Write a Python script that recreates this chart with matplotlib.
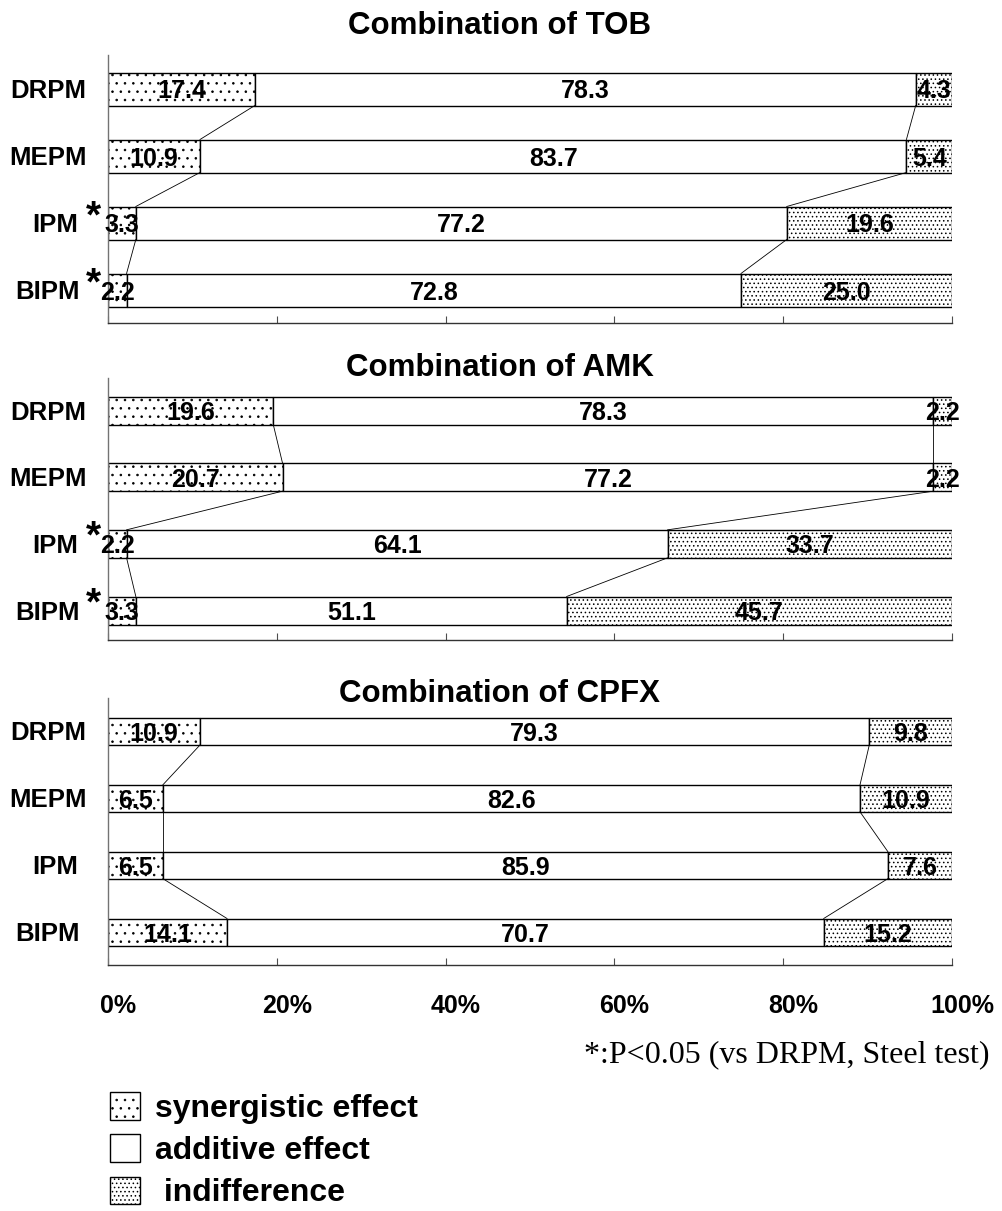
import matplotlib
matplotlib.use('Agg')
import matplotlib.pyplot as plt
from matplotlib import transforms
from matplotlib.patches import Patch
import numpy as np

plt.rcParams['font.family'] = 'Liberation Sans'
plt.rcParams['hatch.linewidth'] = 0.6

# percentages of strains per interaction category
titles = ['Combination of TOB', 'Combination of AMK', 'Combination of CPFX']
drugs = ['DRPM', 'MEPM', 'IPM', 'BIPM']
synergy = [[17.4, 10.9, 3.3, 2.2],
           [19.6, 20.7, 2.2, 3.3],
           [10.9, 6.5, 6.5, 14.1]]
additive = [[78.3, 83.7, 77.2, 72.8],
            [78.3, 77.2, 64.1, 51.1],
            [79.3, 82.6, 85.9, 70.7]]
indiff = [[4.3, 5.4, 19.6, 25.0],
          [2.2, 2.2, 33.7, 45.7],
          [9.8, 10.9, 7.6, 15.2]]
# significant vs DRPM (Steel test)
signif = [[False, False, True, True],
          [False, False, True, True],
          [False, False, False, False]]
xticks = [0, 20, 40, 60, 80, 100]
xticklabels = ['0%', '20%', '40%', '60%', '80%', '100%']

W, H = 1003, 1211
fig = plt.figure(figsize=(W / 100, H / 100), dpi=100)

# panel layout in pixels: axes top, axes bottom, first bar centre, last bar centre, bar height, title y
layout = [(55, 323, 89, 290, 33, 23),
          (378, 640, 410.5, 610.5, 28, 365),
          (698, 965, 731.5, 932, 27, 690)]
X0, X1 = 108, 952
label_x = [48, 48, 55, 48]   # centre of each row label, px
star_x = 93

hatches = ['..', None, '....']

for k, (top, bot, first, last, bar_px, ty) in enumerate(layout):
    ax = fig.add_axes([X0 / W, 1 - bot / H, (X1 - X0) / W, (bot - top) / H])
    slot = (last - first) / 3
    ax.set_ylim(3 + (bot - last) / slot, -(first - top) / slot)
    ax.set_xlim(0, 100)
    h = bar_px / slot

    s = np.array(synergy[k])
    a = np.array(additive[k])
    d = np.array(indiff[k])
    tot = s + a + d
    sp, ap, dp = 100 * s / tot, 100 * a / tot, 100 * d / tot
    y = np.arange(len(drugs))

    lefts = [np.zeros(4), sp, sp + ap]
    for vals, pct, left, hatch in zip([s, a, d], [sp, ap, dp], lefts, hatches):
        ax.barh(y, pct, left=left, height=h, color='white', edgecolor='black',
                linewidth=1.0, hatch=hatch, zorder=2)
        for yi, v, p, l in zip(y, vals, pct, left):
            ax.text(l + p / 2, yi, f'{v:.1f}', ha='center', va='center_baseline',
                    fontsize=18, fontweight='bold', zorder=4)

    # series lines between neighbouring bars
    for b in [sp, sp + ap, sp + ap + dp]:
        for i in range(3):
            ax.plot([b[i], b[i + 1]], [i + h / 2, i + 1 - h / 2],
                    color='black', linewidth=0.6, zorder=3)

    # category labels with significance marks
    base = transforms.blended_transform_factory(ax.transAxes, ax.transData)
    lab_tr = transforms.offset_copy(base, fig=fig, y=-9, units='dots')
    star_tr = transforms.offset_copy(base, fig=fig, y=-4, units='dots')
    for yi, name, star, lx in zip(y, drugs, signif[k], label_x):
        ax.text((lx - X0) / (X1 - X0), yi, name, transform=lab_tr, ha='center',
                va='baseline', fontsize=18.5, fontweight='bold')
        if star:
            ax.text((star_x - X0) / (X1 - X0), yi, '*', transform=star_tr, ha='center',
                    va='baseline', fontsize=28, fontweight='bold')

    for side in ['top', 'right']:
        ax.spines[side].set_visible(False)
    ax.spines['left'].set_color('0.45')
    ax.spines['bottom'].set_color('0.2')
    ax.spines['left'].set_linewidth(1.0)
    ax.spines['bottom'].set_linewidth(1.0)
    ax.set_yticks([])
    ax.set_xticks(xticks)
    ax.tick_params(axis='x', direction='in', length=5, width=0.8, color='0.3')
    if k == 2:
        ax.set_xticklabels(xticklabels, fontsize=18, fontweight='bold')
        ax.tick_params(axis='x', pad=21)
        shift = transforms.ScaledTranslation(10 / 100, 0, fig.dpi_scale_trans)
        for lab in ax.get_xticklabels():
            lab.set_transform(lab.get_transform() + shift)
    else:
        ax.tick_params(axis='x', labelbottom=False)

    fig.text(500 / W, 1 - ty / H, titles[k], ha='center', va='center_baseline',
             fontsize=22.5, fontweight='bold')

fig.text(990 / W, 1 - 1051 / H, '*:P<0.05 (vs DRPM, Steel test)', ha='right',
         va='center_baseline', fontsize=23, family='Liberation Serif')

handles = [Patch(facecolor='white', edgecolor='black', hatch='..', linewidth=1.0),
           Patch(facecolor='white', edgecolor='black', linewidth=1.0),
           Patch(facecolor='white', edgecolor='black', hatch='....', linewidth=1.0)]
labels = ['synergistic effect', 'additive effect', ' indifference']
fig.legend(handles, labels, loc='upper left', bbox_to_anchor=(110 / W, 1 - 1092 / H),
           frameon=False, borderpad=0, borderaxespad=0, handlelength=0.95,
           handleheight=0.95, handletextpad=0.45, labelspacing=0.33,
           prop={'size': 23, 'weight': 'bold'})

fig.savefig('out.png', dpi=100)
